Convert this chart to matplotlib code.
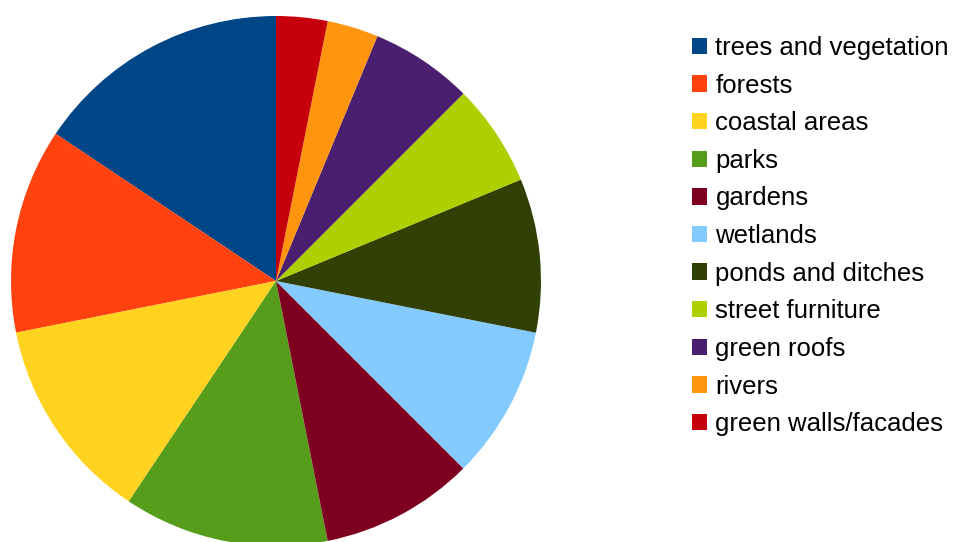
import matplotlib
matplotlib.use("Agg")
import matplotlib.pyplot as plt

plt.rcParams['font.family'] = ['Liberation Sans', 'DejaVu Sans']

categories = ["trees and vegetation", "forests", "coastal areas", "parks", "gardens",
              "wetlands", "ponds and ditches", "street furniture", "green roofs",
              "rivers", "green walls/facades"]
counts = [5, 4, 4, 4, 3, 3, 3, 2, 2, 1, 1]
colors = ["#004586", "#ff420e", "#ffd320", "#579d1c", "#7e0021", "#83caff",
          "#314004", "#aecf00", "#4b1f6f", "#ff950e", "#c5000b"]

W, H = 954, 542
fig = plt.figure(figsize=(W / 100, H / 100), dpi=100)

cx, cy, r = 276, 281, 265
ax = fig.add_axes([(cx - r) / W, (H - cy - r) / H, 2 * r / W, 2 * r / H])
wedges, _ = ax.pie(counts, colors=colors, startangle=90, counterclock=True,
                   radius=1.0, wedgeprops=dict(linewidth=0))
ax.set_xlim(-1, 1)
ax.set_ylim(-1, 1)
ax.set_aspect("equal")
ax.axis("off")

fig.legend(wedges, categories, loc="upper left",
           bbox_to_anchor=(692 / W, 1 - 36 / H), frameon=False,
           fontsize=18.5, handlelength=0.6, handleheight=0.6,
           handletextpad=0.31, labelspacing=0.53, borderpad=0, borderaxespad=0)

fig.savefig("out.png", dpi=100)
